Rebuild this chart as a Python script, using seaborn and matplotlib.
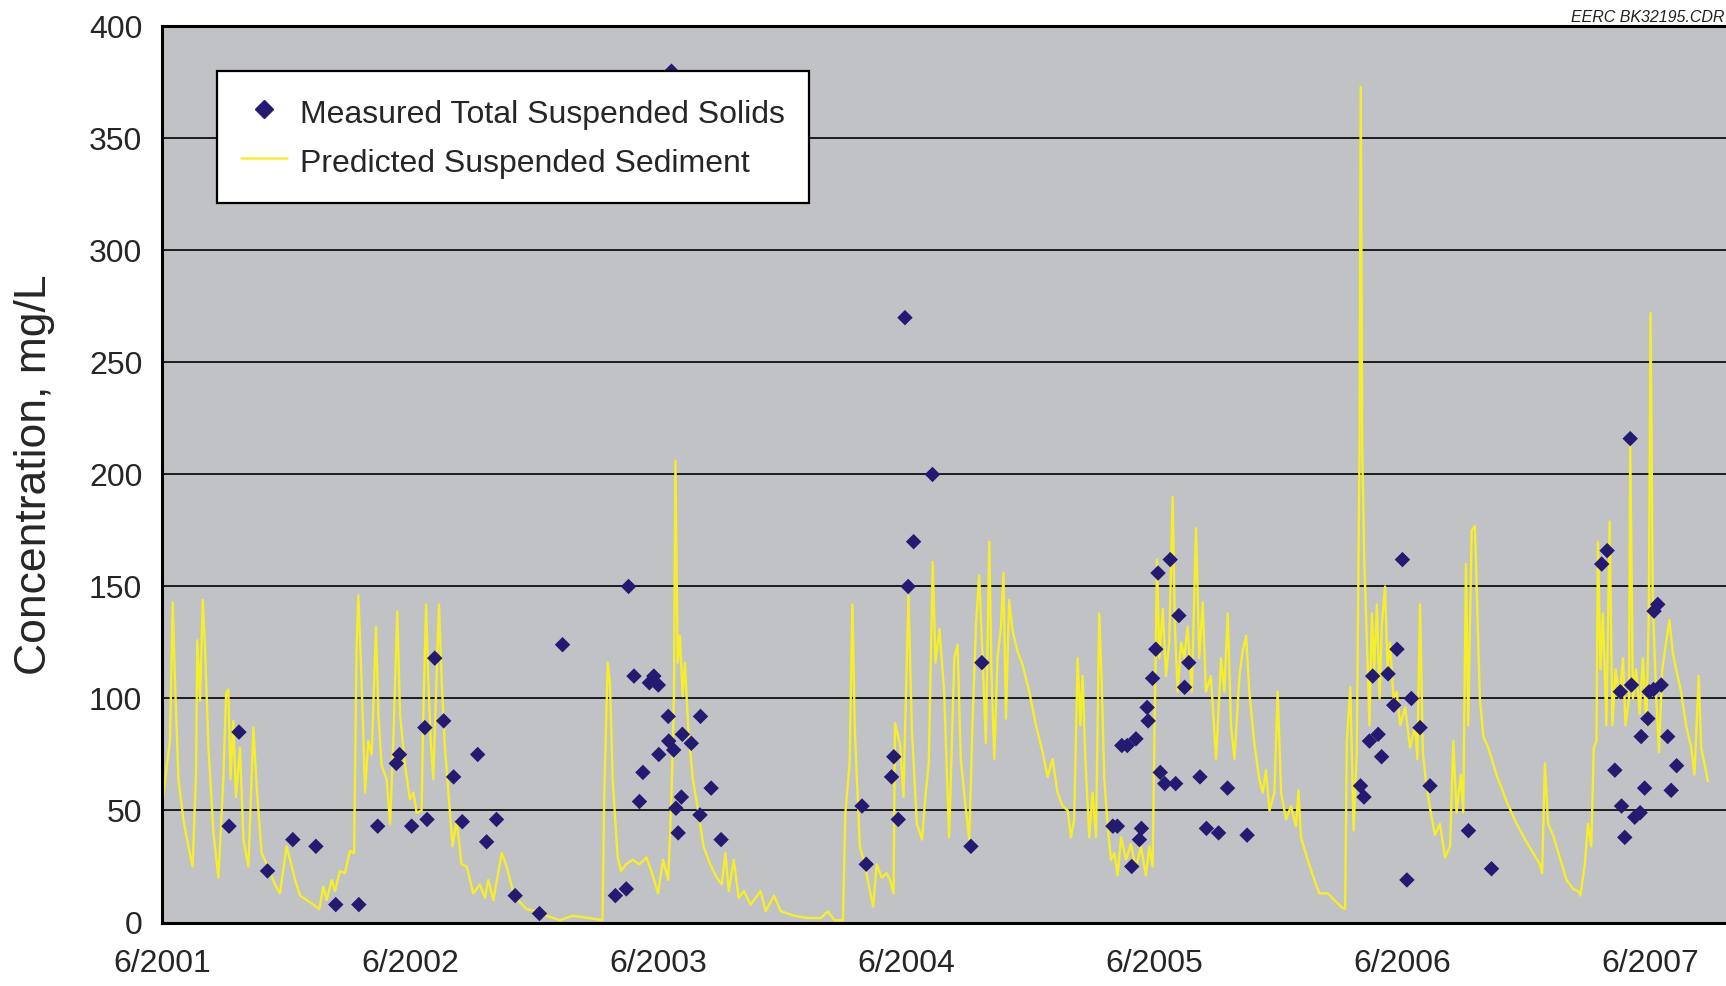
import numpy as np
import pandas as pd
import matplotlib
matplotlib.use("Agg")
import matplotlib.pyplot as plt
import seaborn as sns

# x values are years after 6/2001 (tick "6/2001" = 0)
tick_labels = ["6/2001", "6/2002", "6/2003", "6/2004", "6/2005", "6/2006", "6/2007"]

# measured total suspended solids, mg/L
meas_t = [0.271, 0.311, 0.426, 0.528, 0.621, 0.701, 0.794, 0.870, 0.945, 0.958,
          1.007, 1.060, 1.069, 1.100, 1.136, 1.176, 1.211, 1.273, 1.309, 1.349,
          1.424, 1.522, 1.615, 1.828, 1.872, 1.881, 1.903, 1.925, 1.939, 1.965,
          1.983, 2.001, 2.003, 2.041, 2.043, 2.054, 2.063, 2.072, 2.081, 2.094,
          2.098, 2.134, 2.169, 2.171, 2.214, 2.254,
          2.822, 2.839, 2.941, 2.950, 2.968, 2.995, 3.008, 3.030, 3.106, 3.261, 3.305,
          3.833, 3.851, 3.869, 3.891, 3.909, 3.926, 3.940, 3.948, 3.971, 3.975,
          3.993, 4.006, 4.015, 4.024, 4.042, 4.064, 4.086, 4.099, 4.122, 4.139,
          4.184, 4.210, 4.259, 4.295, 4.374,
          4.831, 4.845, 4.867, 4.880, 4.902, 4.916, 4.942, 4.965, 4.978, 5.000,
          5.018, 5.036, 5.071, 5.111, 5.266, 5.359,
          5.803, 5.825, 5.856, 5.878, 5.883, 5.896, 5.918, 5.923, 5.936, 5.958,
          5.962, 5.976, 5.989, 5.994, 6.012, 6.014, 6.029, 6.043, 6.069, 6.083, 6.105]
meas_v = [43, 85, 23, 37, 34, 8, 8, 43, 71, 75,
          43, 87, 46, 118, 90, 65, 45, 75, 36, 46,
          12, 4, 124, 12, 15, 150, 110, 54, 67, 107,
          110, 106, 75, 92, 81, 380, 77, 51, 40, 56,
          84, 80, 48, 92, 60, 37,
          52, 26, 65, 74, 46, 270, 150, 170, 200, 34, 116,
          43, 43, 79, 79, 25, 82, 37, 42, 96, 90,
          109, 122, 156, 67, 62, 162, 62, 137, 105, 116,
          65, 42, 40, 60, 39,
          61, 56, 81, 110, 84, 74, 111, 97, 122, 162,
          19, 100, 87, 61, 41, 24,
          160, 166, 68, 103, 52, 38, 216, 106, 47, 49,
          83, 60, 91, 103, 104, 139, 142, 106, 83, 59, 70]

# predicted suspended sediment, mg/L
pred_t = [0.000, 0.006, 0.020, 0.033, 0.044, 0.053, 0.067, 0.087, 0.107, 0.124,
          0.138, 0.143, 0.154, 0.165, 0.174, 0.188, 0.208, 0.228, 0.248, 0.259,
          0.268, 0.277, 0.288, 0.299, 0.315, 0.329, 0.349, 0.369, 0.382, 0.402,
          0.423, 0.456, 0.476, 0.503, 0.517, 0.537, 0.557, 0.584, 0.611, 0.635,
          0.651, 0.664, 0.685, 0.698, 0.718, 0.738, 0.758, 0.775, 0.785, 0.792,
          0.805, 0.819, 0.832, 0.846, 0.863, 0.873, 0.886, 0.906, 0.920, 0.933,
          0.949, 0.960, 0.980, 1.000, 1.014, 1.027, 1.047, 1.054, 1.065, 1.074,
          1.084, 1.094, 1.108, 1.117, 1.128, 1.141, 1.155, 1.172, 1.188, 1.208,
          1.229, 1.255, 1.282, 1.302, 1.316, 1.336, 1.370, 1.390, 1.417, 1.444,
          1.470, 1.511, 1.551, 1.605,
          1.654, 1.722, 1.776, 1.783, 1.797, 1.806, 1.817, 1.837, 1.851, 1.871,
          1.898, 1.925, 1.953, 1.973, 2.000, 2.020, 2.041, 2.054, 2.064, 2.070,
          2.079, 2.088, 2.099, 2.108, 2.122, 2.140, 2.163, 2.183, 2.210, 2.237,
          2.257, 2.271, 2.285, 2.305, 2.325, 2.346, 2.373, 2.413, 2.434, 2.467,
          2.495, 2.549, 2.603, 2.657, 2.684, 2.711, 2.745, 2.755, 2.772, 2.783,
          2.793, 2.813, 2.833, 2.854, 2.867, 2.881, 2.901, 2.921, 2.935, 2.949,
          2.955, 2.976, 2.989, 3.009, 3.023, 3.043, 3.064, 3.077, 3.091, 3.107,
          3.118, 3.134,
          3.153, 3.173, 3.194, 3.207, 3.220, 3.241, 3.254, 3.267, 3.281, 3.294,
          3.308, 3.321, 3.335, 3.344, 3.355, 3.368, 3.382, 3.392, 3.402, 3.415,
          3.429, 3.449, 3.469, 3.496, 3.523, 3.550, 3.570, 3.590, 3.610, 3.630,
          3.651, 3.664, 3.677, 3.691, 3.702, 3.711, 3.722, 3.738, 3.751, 3.765,
          3.778, 3.789, 3.798, 3.812, 3.825, 3.839, 3.852, 3.866, 3.886, 3.906,
          3.926, 3.946, 3.966, 3.980, 3.993, 4.003, 4.011, 4.020, 4.034, 4.047,
          4.060, 4.074, 4.083, 4.094, 4.108, 4.121, 4.134, 4.151, 4.168, 4.181,
          4.195, 4.208, 4.228, 4.249, 4.269, 4.282, 4.296, 4.309, 4.323, 4.343,
          4.356, 4.370, 4.383, 4.403, 4.423, 4.437, 4.450, 4.464, 4.484, 4.497,
          4.511, 4.531, 4.551, 4.571, 4.581, 4.591, 4.618, 4.645, 4.665, 4.699,
          4.726, 4.753, 4.769,
          4.776, 4.790, 4.803, 4.816, 4.827, 4.832, 4.838, 4.846, 4.857, 4.867,
          4.877, 4.886, 4.897, 4.908, 4.917, 4.930, 4.940, 4.950, 4.964, 4.977,
          4.991, 5.011, 5.031, 5.051, 5.060, 5.071, 5.082, 5.095, 5.111, 5.131,
          5.151, 5.172, 5.192, 5.205, 5.218, 5.235, 5.245, 5.256, 5.265, 5.279,
          5.292, 5.302, 5.312, 5.326, 5.346, 5.379, 5.420, 5.460, 5.500, 5.527,
          5.554, 5.563, 5.574, 5.587, 5.607, 5.634, 5.661, 5.688, 5.708, 5.717,
          5.735, 5.748, 5.761, 5.771, 5.782, 5.788, 5.798, 5.808, 5.822, 5.835,
          5.846, 5.859, 5.875, 5.889, 5.899, 5.913, 5.918, 5.929, 5.942, 5.956,
          5.969, 5.983, 5.993, 6.000, 6.009, 6.023, 6.034, 6.047, 6.063, 6.076,
          6.090, 6.103, 6.123, 6.143, 6.164, 6.177, 6.194, 6.204, 6.217, 6.231]
pred_v = [66, 56, 70, 81, 143, 108, 64, 46, 34, 25,
          67, 126, 99, 144, 123, 78, 40, 20, 64, 102,
          104, 64, 90, 56, 78, 37, 25, 87, 61, 31,
          26, 17, 13, 34, 28, 19, 12, 10, 8, 6,
          16, 10, 19, 14, 23, 22, 32, 31, 123, 146,
          108, 58, 81, 75, 132, 93, 70, 64, 44, 81,
          139, 93, 70, 55, 58, 49, 50, 93, 142, 108,
          81, 64, 111, 142, 108, 78, 58, 34, 46, 26,
          25, 13, 17, 11, 19, 10, 31, 25, 13, 9,
          6, 5, 3, 1,
          3, 2, 1, 56, 116, 107, 64, 29, 23, 26,
          28, 26, 29, 23, 13, 28, 19, 56, 101, 206,
          116, 128, 101, 116, 86, 64, 49, 34, 26, 20,
          17, 31, 14, 28, 11, 14, 8, 14, 5, 12,
          5, 3, 2, 2, 5, 1, 1, 49, 71, 142,
          86, 34, 26, 14, 7, 26, 20, 22, 19, 13,
          89, 79, 56, 146, 86, 44, 37, 56, 71, 161,
          116, 131,
          103, 38, 118, 124, 73, 50, 37, 88, 132, 155,
          118, 80, 170, 110, 73, 118, 132, 156, 91, 144,
          130, 121, 115, 103, 88, 76, 65, 73, 58, 52,
          50, 38, 46, 118, 88, 110, 73, 38, 58, 38,
          138, 103, 65, 43, 28, 31, 21, 38, 28, 35,
          24, 34, 21, 34, 25, 103, 162, 118, 140, 110,
          125, 190, 132, 103, 125, 118, 132, 103, 176, 118,
          143, 103, 110, 73, 118, 103, 138, 88, 73, 110,
          121, 128, 103, 80, 64, 58, 68, 50, 58, 103,
          58, 46, 52, 43, 59, 38, 28, 19, 13, 13,
          10, 7, 6,
          81, 105, 41, 76, 211, 373, 211, 162, 125, 88,
          138, 113, 142, 100, 133, 150, 113, 125, 100, 103,
          88, 96, 78, 88, 73, 142, 76, 63, 51, 39,
          44, 29, 34, 81, 49, 66, 49, 160, 88, 175,
          177, 138, 100, 83, 78, 66, 54, 44, 36, 31,
          26, 22, 71, 44, 39, 29, 19, 15, 14, 12,
          26, 44, 34, 78, 81, 170, 113, 138, 88, 179,
          88, 113, 100, 118, 88, 100, 214, 100, 113, 93,
          118, 88, 138, 272, 142, 100, 76, 113, 125, 135,
          120, 113, 103, 88, 78, 66, 110, 78, 71, 63]

meas = pd.DataFrame({"t": meas_t, "v": meas_v})
pred = pd.DataFrame({"t": pred_t, "v": pred_v})

sns.set_style("white")
plt.rcParams["font.family"] = ["Liberation Sans", "DejaVu Sans"]

fig = plt.figure(figsize=(17.26, 9.86), dpi=100)
ax = fig.add_axes([0.09375, 0.0644, 0.90625, 0.9088])
ax.set_facecolor("#c0c2c5")

navy = "#241a72"
yellow = "#f5ef2b"

sns.lineplot(data=pred, x="t", y="v", ax=ax, color=yellow, lw=1.7,
             estimator=None, sort=False, zorder=2, legend=False)
sns.scatterplot(data=meas, x="t", y="v", ax=ax, marker="D", s=62,
                color=navy, edgecolor="none", zorder=3, legend=False)

ax.set_xlim(0, 6.304)
ax.set_ylim(0, 400)
ax.set_yticks(range(0, 401, 50))
ax.set_xticks(range(len(tick_labels)))
ax.set_xticklabels(tick_labels)
ax.tick_params(axis="both", labelsize=23, length=9, width=1.6, color="black",
               direction="out", pad=5)
ax.tick_params(axis="x", pad=10)
ax.yaxis.grid(True, color="#1c1c1c", lw=1.4)
ax.xaxis.grid(False)
ax.set_axisbelow(True)

for side in ["left", "bottom", "top"]:
    ax.spines[side].set_color("black")
    ax.spines[side].set_linewidth(2.2)
ax.spines["right"].set_visible(False)

ax.set_xlabel("")
ax.set_ylabel("Concentration, mg/L", fontsize=32)
ax.yaxis.set_label_coords(-0.068, 0.5)

h_meas = plt.Line2D([], [], marker="D", ls="none", color=navy, markersize=9.5)
h_pred = plt.Line2D([], [], color=yellow, lw=1.8)
leg = ax.legend([h_meas, h_pred],
                ["Measured Total Suspended Solids", "Predicted Suspended Sediment"],
                loc="upper left", bbox_to_anchor=(0.0354, 0.9497), borderaxespad=0,
                fontsize=23, frameon=True, fancybox=False, framealpha=1,
                edgecolor="black", borderpad=0.75, handlelength=1.45,
                handleheight=1.2, handletextpad=0.4, labelspacing=0.47)
leg.get_frame().set_linewidth(1.6)
leg.set_zorder(5)

fig.text(0.999, 0.982, "EERC BK32195.CDR", ha="right", va="center",
         fontsize=11.5, style="italic", color="#222222")

fig.savefig("out.png", dpi=100)
